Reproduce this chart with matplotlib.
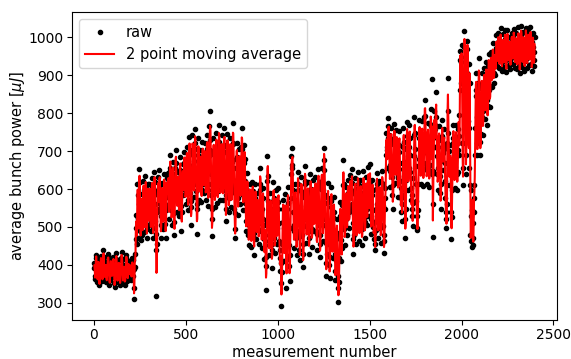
import matplotlib
matplotlib.use('Agg')
import matplotlib.pyplot as plt
import numpy as np
import pandas as pd

step = 2
raw = [
    # 0 - 98
    392, 405, 371, 362, 398, 418, 427, 389, 377, 356, 368, 401, 415, 382, 352, 348, 379, 396, 412, 424, 405, 387, 366, 358, 383,
    440, 421, 398, 376, 361, 389, 407, 393, 371, 355, 364, 386, 409, 428, 411, 394, 372, 347, 359, 381, 402, 418, 396, 374, 368,
    # 100 - 198
    385, 399, 421, 410, 372, 351, 343, 368, 392, 407, 431, 416, 388, 362, 355, 374, 396, 413, 398, 380, 359, 346, 371, 394, 418,
    435, 412, 390, 366, 352, 377, 401, 389, 364, 348, 369, 392, 417, 426, 402, 381, 358, 372, 395, 410, 388, 367, 384, 405, 393,
    # 200 - 298
    402, 378, 361, 395, 418, 386, 370, 412, 340, 310, 388, 430, 395, 468, 532, 498, 455, 528, 612, 585, 520, 472, 560, 652, 618,
    548, 490, 465, 532, 588, 560, 505, 478, 545, 620, 598, 532, 486, 512, 575, 635, 602, 548, 470, 495, 560, 612, 590, 528, 505,
    # 300 - 398
    565, 612, 588, 530, 488, 512, 575, 628, 604, 552, 498, 470, 535, 590, 645, 618, 560, 515, 482, 440, 318, 455, 540, 598, 632,
    585, 548, 602, 650, 612, 560, 505, 472, 528, 590, 615, 578, 532, 495, 548, 610, 640, 595, 552, 508, 470, 545, 605, 628, 580,
    # 400 - 498
    598, 642, 615, 560, 520, 585, 648, 690, 655, 598, 545, 505, 562, 628, 672, 640, 585, 538, 478, 512, 590, 655, 702, 668, 610,
    572, 540, 598, 645, 620, 575, 528, 560, 632, 685, 650, 602, 555, 488, 540, 612, 665, 630, 585, 610, 668, 698, 645, 598, 560,
    # 500 - 598
    612, 665, 710, 680, 625, 572, 545, 598, 662, 738, 702, 645, 590, 552, 505, 568, 640, 698, 742, 690, 632, 580, 612, 675, 720,
    758, 705, 648, 595, 548, 482, 560, 628, 690, 735, 672, 615, 572, 635, 702, 668, 610, 565, 598, 662, 725, 688, 630, 590, 645,
    # 600 - 698
    680, 720, 665, 612, 570, 625, 690, 742, 705, 650, 598, 555, 612, 688, 765, 728, 805, 702, 640, 585, 520, 475, 548, 630, 692,
    735, 698, 640, 590, 552, 618, 685, 748, 712, 660, 605, 562, 595, 662, 725, 770, 715, 658, 610, 570, 628, 690, 742, 695, 648,
    # 700 - 798
    605, 572, 632, 698, 760, 715, 655, 598, 548, 515, 585, 650, 712, 745, 690, 628, 575, 540, 602, 668, 735, 702, 645, 590, 552,
    610, 672, 722, 775, 718, 655, 598, 548, 495, 470, 538, 612, 678, 720, 685, 625, 575, 532, 598, 662, 705, 668, 612, 560, 605,
    # 800 - 898
    648, 712, 760, 705, 640, 585, 545, 602, 668, 715, 680, 620, 562, 515, 488, 540, 598, 642, 590, 535, 480, 452, 505, 568, 612,
    585, 530, 478, 448, 502, 560, 618, 595, 538, 485, 425, 472, 530, 575, 612, 568, 515, 468, 505, 552, 590, 548, 495, 455, 510,
    # 900 - 998
    560, 612, 655, 598, 540, 488, 445, 492, 548, 602, 575, 520, 468, 415, 452, 505, 478, 398, 335, 420, 512, 620, 686, 635, 568,
    510, 462, 425, 480, 535, 590, 548, 495, 440, 392, 455, 512, 568, 618, 575, 520, 470, 432, 488, 545, 598, 552, 498, 455, 505,
    # 1000 - 1098
    548, 602, 565, 510, 462, 418, 385, 440, 405, 352, 292, 380, 455, 512, 570, 548, 498, 452, 410, 468, 525, 588, 462, 340, 415,
    490, 548, 605, 562, 505, 452, 398, 358, 425, 498, 575, 640, 686, 655, 707, 662, 598, 540, 488, 445, 505, 565, 612, 570, 518,
    # 1100 - 1198
    470, 425, 488, 552, 612, 645, 598, 540, 485, 440, 412, 475, 538, 595, 632, 588, 530, 478, 430, 395, 455, 520, 578, 620, 660,
    612, 555, 502, 458, 505, 565, 618, 585, 528, 472, 428, 490, 552, 598, 640, 600, 545, 495, 448, 515, 572, 625, 580, 528, 488,
    # 1200 - 1298
    535, 590, 632, 598, 545, 490, 438, 482, 545, 610, 652, 618, 560, 505, 455, 420, 478, 540, 600, 655, 620, 560, 505, 462, 598,
    677, 708, 650, 585, 520, 458, 405, 372, 430, 498, 562, 615, 575, 512, 455, 400, 365, 420, 488, 552, 605, 568, 505, 452, 418,
    # 1300 - 1398
    470, 525, 578, 540, 482, 430, 385, 360, 412, 468, 522, 485, 430, 372, 338, 302, 355, 418, 475, 530, 565, 520, 465, 410, 445,
    502, 558, 610, 676, 612, 548, 495, 452, 505, 560, 605, 572, 520, 478, 530, 582, 625, 590, 540, 498, 548, 602, 638, 595, 552,
    # 1400 - 1498
    590, 652, 615, 560, 510, 468, 428, 480, 535, 588, 630, 598, 545, 500, 455, 510, 565, 612, 645, 602, 552, 505, 462, 520, 578,
    625, 590, 540, 495, 452, 505, 560, 610, 648, 605, 558, 512, 470, 525, 580, 632, 598, 548, 505, 550, 602, 658, 620, 570, 530,
    # 1500 - 1598
    665, 618, 568, 520, 482, 530, 585, 625, 598, 545, 500, 468, 512, 485, 455, 439, 492, 548, 600, 642, 612, 560, 512, 470, 525,
    578, 620, 590, 540, 498, 458, 505, 562, 615, 648, 605, 555, 502, 462, 432, 480, 548, 602, 575, 690, 748, 712, 655, 702, 765,
    # 1600 - 1698
    735, 787, 742, 690, 648, 605, 662, 718, 762, 728, 680, 632, 585, 548, 610, 672, 735, 772, 720, 665, 615, 660, 712, 755, 718,
    675, 628, 580, 635, 698, 752, 715, 668, 620, 575, 540, 602, 560, 515, 585, 652, 712, 760, 725, 672, 598, 520, 471, 548, 625,
    # 1700 - 1798
    705, 776, 740, 688, 642, 598, 655, 712, 768, 735, 690, 645, 602, 570, 548, 585, 530, 502, 562, 628, 688, 742, 790, 748, 705,
    660, 612, 568, 530, 498, 491, 545, 612, 678, 735, 782, 745, 702, 658, 612, 665, 722, 778, 740, 695, 650, 608, 668, 725, 790,
    # 1800 - 1898
    834, 792, 745, 698, 655, 612, 668, 722, 775, 738, 695, 650, 605, 662, 718, 772, 810, 765, 718, 640, 889, 474, 560, 648, 712,
    760, 805, 758, 712, 768, 855, 790, 735, 688, 640, 598, 655, 712, 765, 728, 682, 635, 590, 548, 612, 675, 738, 782, 740, 695,
    # 1900 - 1998
    650, 705, 758, 712, 668, 622, 575, 540, 520, 497, 560, 720, 893, 805, 748, 700, 655, 610, 662, 715, 650, 540, 468, 525, 598,
    665, 722, 770, 735, 690, 645, 602, 658, 712, 768, 732, 688, 640, 598, 645, 702, 758, 795, 740, 690, 860, 965, 940, 880, 935,
    # 2000 - 2098
    980, 912, 720, 655, 610, 720, 890, 975, 1016, 948, 835, 690, 640, 760, 905, 970, 990, 930, 780, 655, 760, 930, 880, 610, 480,
    462, 530, 598, 545, 448, 510, 452, 470, 540, 610, 575, 690, 760, 845, 905, 860, 790, 720, 690, 760, 820, 880, 945, 870, 800,
    # 2100 - 2198
    725, 690, 745, 810, 865, 905, 850, 790, 742, 805, 870, 920, 882, 830, 785, 840, 895, 935, 890, 835, 768, 820, 880, 925, 955,
    905, 860, 815, 872, 930, 962, 918, 870, 905, 950, 985, 948, 905, 880, 925, 965, 940, 900, 935, 972, 1005, 960, 925, 950, 988,
    # 2200 - 2298
    1012, 975, 942, 918, 955, 990, 1024, 985, 948, 912, 935, 972, 1008, 978, 945, 922, 958, 995, 1018, 982, 940, 908, 925, 962, 998,
    1020, 985, 950, 928, 962, 1000, 975, 940, 915, 945, 980, 1012, 990, 958, 930, 968, 1002, 1022, 985, 952, 920, 948, 985, 1010, 975,
    # 2300 - 2398
    942, 915, 950, 988, 1026, 995, 960, 925, 905, 932, 968, 1005, 1030, 992, 955, 922, 948, 985, 1015, 980, 945, 910, 938, 975, 1012,
    1024, 988, 952, 918, 945, 982, 1018, 995, 960, 928, 955, 992, 1028, 1000, 965, 930, 912, 950, 988, 1010, 975, 940, 925, 962, 1000,
]

x = np.arange(len(raw)) * step
avg = pd.Series(raw).rolling(2).mean()

plt.rcParams['font.size'] = 10.5
fig = plt.figure(figsize=(5.71, 3.59), dpi=100)
ax = fig.add_axes([0.126, 0.109, 0.849, 0.858])

# raw points, then the moving average on top
ax.plot(x, raw, 'k.', label='raw')
ax.plot(x, avg, 'r-', label='2 point moving average')

ax.set_xlabel('measurement number', labelpad=2)
ax.set_ylabel(r'average bunch power [$\mu J$]', labelpad=1)
ax.set_xticks([0, 500, 1000, 1500, 2000, 2500])
ax.set_yticks([300, 400, 500, 600, 700, 800, 900, 1000])
ax.tick_params(labelsize=10, pad=2.5)
ax.legend(loc='upper left')

fig.savefig('out.png', dpi=100)
